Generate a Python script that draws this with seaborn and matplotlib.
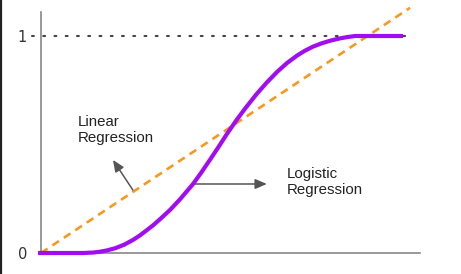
import numpy as np
import pandas as pd
import matplotlib
matplotlib.use("Agg")
import matplotlib.pyplot as plt
import seaborn as sns

# ---- data ----
logistic_x = [-0.008, 0.114, 0.141, 0.160, 0.179, 0.201, 0.225, 0.249, 0.268,
              0.285, 0.304, 0.322, 0.350, 0.377, 0.412, 0.434, 0.458, 0.480,
              0.504, 0.530, 0.555, 0.585, 0.612, 0.640, 0.667, 0.694, 0.715,
              0.737, 0.760, 0.783, 0.810, 0.830, 0.851, 0.981]
logistic_y = [0.000, 0.000, 0.002, 0.006, 0.012, 0.022, 0.038, 0.060, 0.081,
              0.103, 0.128, 0.155, 0.199, 0.248, 0.318, 0.370, 0.430, 0.486,
              0.549, 0.613, 0.670, 0.734, 0.786, 0.835, 0.876, 0.910, 0.932,
              0.951, 0.966, 0.978, 0.989, 0.995, 1.000, 1.000]
linear_x = [0.0, 1.0]
linear_y = [0.0, 1.13]
ref_x = [-0.024, 1.0]
ref_y = [1.0, 1.0]
tick_values = [0, 1]
tick_labels = ["0", "1"]
label_linear = "Linear\nRegression"
label_logistic = "Logistic\nRegression"

sns.set_style("white")
plt.rcParams["font.family"] = ["Liberation Sans", "DejaVu Sans"]

W, H = 461, 274
fig = plt.figure(figsize=(W / 100, H / 100), dpi=100)
ax = fig.add_axes([41 / W, 21 / H, 379 / W, 241 / H])

df_log = pd.DataFrame({"x": logistic_x, "y": logistic_y})
df_lin = pd.DataFrame({"x": linear_x, "y": linear_y})

sns.lineplot(data=df_lin, x="x", y="y", ax=ax, color="#f7981f", lw=1.9,
             linestyle=(0, (3.0, 2.2)), clip_on=False, sort=False)
sns.lineplot(data=df_log, x="x", y="y", ax=ax, color="#a20cf2", lw=3.0,
             clip_on=False, sort=False, solid_capstyle="butt",
             solid_joinstyle="round", zorder=4)
ax.plot(ref_x, ref_y, color="#444444", lw=1.5, linestyle=(0, (0.9, 4.5)),
        dash_capstyle="round", clip_on=False, zorder=3)

ax.set_xlim(0, 1.027)
ax.set_ylim(0, 1.1106)
ax.set_xlabel("")
ax.set_ylabel("")
ax.set_xticks([])
ax.set_yticks(tick_values)
ax.set_yticklabels(tick_labels, family="DejaVu Sans", fontsize=10.5, color="#333333")
ax.tick_params(axis="y", length=0, pad=10)

for s in ["top", "right"]:
    ax.spines[s].set_visible(False)
for s in ["left", "bottom"]:
    ax.spines[s].set_color("#888888")
    ax.spines[s].set_linewidth(1.2)

# annotations
ax.text(0.100, 0.636, label_linear, fontsize=10.8, color="#222222",
        va="top", ha="left", linespacing=1.15)
ax.text(0.667, 0.396, label_logistic, fontsize=10.8, color="#222222",
        va="top", ha="left", linespacing=1.15)
arrow_kw = dict(arrowstyle="-|>,head_length=0.7,head_width=0.3",
                color="#555555", lw=1.1, shrinkA=0, shrinkB=0)
ax.annotate("", xy=(0.195, 0.429), xytext=(0.249, 0.290), arrowprops=arrow_kw)
ax.annotate("", xy=(0.612, 0.318), xytext=(0.412, 0.318), arrowprops=arrow_kw)

# left frame edge
fig.add_artist(plt.Line2D([1.2 / W, 1.2 / W], [0, 1], transform=fig.transFigure,
                          color="#222222", lw=1.6))

fig.savefig("out.png", dpi=100)
